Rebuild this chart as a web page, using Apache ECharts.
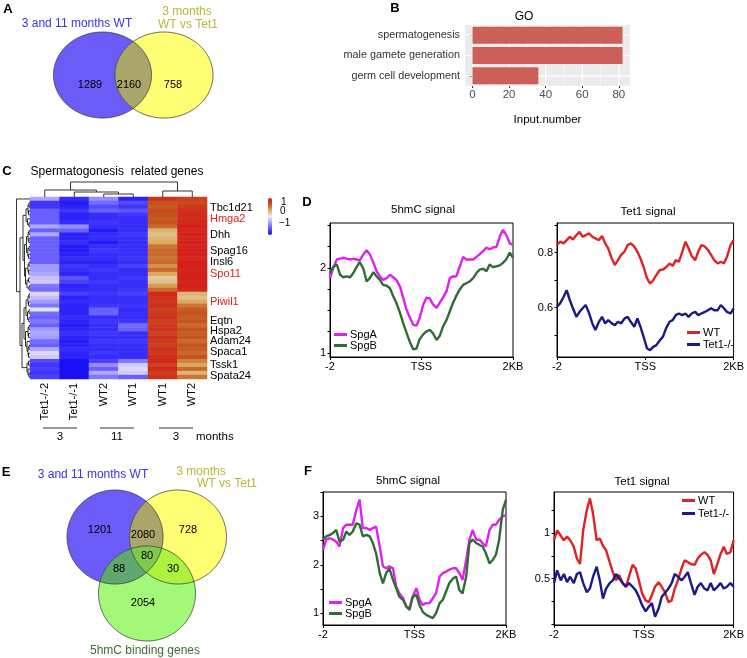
<!DOCTYPE html>
<html><head><meta charset="utf-8">
<script src="https://cdn.jsdelivr.net/npm/echarts@6/dist/echarts.min.js"></script>
<style>html,body{margin:0;padding:0;background:#fff}#c{width:747px;height:658px}</style>
</head><body><div id="c"></div>
<script>
// ================= DATA =================
const vennALabels = ['3 and 11 months WT', '3 months', 'WT vs Tet1'];
const vennACounts = [1289, 2160, 758];           // blue only, both, yellow only
const vennELabels = ['3 and 11 months WT', '3 months', 'WT vs Tet1', '5hmC binding genes'];
const vennECounts = [1201, 2080, 728, 88, 80, 30, 2054]; // B, BY, Y, BG, BYG, YG, G

const goTerms = ['spermatogenesis', 'male gamete generation', 'germ cell development'];
const goCounts = [82, 82, 36];
const goTicks = [0, 20, 40, 60, 80];
const goMinorTicks = [10, 30, 50, 70];

const hmCols = ['Tet1-/-2', 'Tet1-/-1', 'WT2', 'WT1', 'WT1', 'WT2'];
const hmTet1KO2 = [-0.3,-0.8,-0.8,-0.6,-0.6,-0.6,-0.6,-0.3,-0.6,-0.3,-0.6,-0.6,-0.6,-0.6,-0.6,-0.6,-0.6,-0.35,-0.35,-0.3,-0.2,-0.15,-0.5,-0.55,-0.1,-0.2,-0.35,-0.5,-0.05,-0.55,-0.6,-0.5,-0.6,-0.35,-0.3,-0.35,-0.55,-0.6,-0.3,-0.1,-0.15,-0.7,-0.8,-0.75,-0.8,-0.75];
const hmTet1KO1 = [-0.85,-0.95,-0.9,-0.8,-0.9,-0.9,-0.85,-0.4,-0.6,-0.9,-0.9,-0.85,-0.95,-0.95,-0.9,-0.85,-0.9,-0.8,-0.85,-0.9,-0.65,-0.75,-0.9,-0.85,-0.75,-0.9,-0.85,-0.9,-0.9,-0.9,-0.85,-0.9,-0.95,-0.9,-0.85,-0.9,-0.95,-0.9,-0.85,-0.9,-0.9,-1,-1,-1,-1,-1];
const hmWT2m11 = [-0.4,-0.55,-0.7,-0.6,-0.85,-0.85,-0.8,-0.85,-0.95,-0.85,-0.85,-0.95,-0.85,-0.8,-0.85,-0.85,-0.9,-0.85,-0.8,-0.85,-0.85,-0.8,-0.85,-0.85,-0.8,-0.85,-0.85,-0.8,-0.6,-0.6,-0.85,-0.8,-0.85,-0.85,-0.8,-0.85,-0.8,-0.85,-0.85,-0.8,-0.85,-0.75,-0.4,-0.6,-0.3,-0.5];
const hmWT1m11 = [-0.9,-0.7,-0.8,-0.65,-0.8,-0.85,-0.85,-0.85,-0.85,-0.8,-0.85,-0.85,-0.85,-0.85,-0.85,-0.8,-0.85,-0.75,-0.85,-0.85,-0.8,-0.85,-0.85,-0.8,-0.75,-0.85,-0.85,-0.8,-0.85,-0.85,-0.85,-0.8,-0.55,-0.6,-0.85,-0.85,-0.8,-0.85,-0.85,-0.85,-0.85,-0.5,-0.15,-0.1,-0.15,-0.6];
const hmWT1m3 = [0.9,0.7,0.65,0.75,0.7,0.65,0.7,0.6,0.3,0.25,0.3,0.35,0.55,0.6,0.6,0.55,0.6,0.45,0.6,0.35,0.2,0.25,0.4,0.6,0.95,0.9,0.85,0.9,0.8,0.85,0.9,0.8,0.85,0.9,0.8,0.9,0.85,0.8,0.9,0.85,0.9,0.95,0.8,0.95,0.8,0.9];
const hmWT2m3 = [0.8,0.75,0.85,0.9,0.95,0.9,0.95,1,0.95,1,0.95,1,0.95,1,1,0.95,1,1,0.95,1,1,0.95,1,0.95,0.3,0.25,0.35,0.55,0.65,0.7,0.65,0.7,0.6,0.7,0.65,0.7,0.6,0.7,0.65,0.6,0.7,0.5,0.35,0.6,0.3,0.55];
const hmGeneNames = ['Tbc1d21','Hmga2','Dhh','Spag16','Insl6','Spo11','Piwil1','Eqtn','Hspa2','Adam24','Spaca1','Tssk1','Spata24'];
const hmGeneRows = [2.36, 5.14, 9.10, 13.07, 15.85, 18.96, 25.96, 30.76, 33.29, 35.82, 38.60, 41.96, 44.66];
const hmRedGenes = ['Hmga2', 'Spo11', 'Piwil1'];
const hmScaleLabels = ['1', '0', '\u22121'];
const monthGroups = ['3', '11', '3'];
// dendrograms: [height, left, right], leaves = row / column index
const colTree = [15, [7, 0, [5, 1, [3, 2, 3]]], [6, 4, 5]];
const rowTree = [13.5, 0,
  [10,
    [7, [4, [2, [1, 1, 2], [1.5, 3, 4]], [2.5, 5, [1, 6, 7]]],
        [5.5, [3.5, [2, [1, 8, 9], [1.2, 10, 11]], [2.2, [1, 12, 13], [1.5, 14, 15]]],
              [4.5, [2, [1, 16, 17], [1.4, 18, 19]], [3, [1.5, 20, 21], [1, 22, 23]]]]],
    [8,
      [6, [4, [2, [1, 24, 25], [1.5, 26, 27]], [2.5, [1, 28, 29], [1.2, 30, 31]]],
          [4.5, [2, [1, 32, 33], [1.5, 34, 35]], [3, 36, [2, [1, 37, 38], [1.5, 39, 40]]]]],
      [3, [1.5, 41, 42], [2, 43, [1, 44, 45]]]]]];

// profile positions (kb relative to TSS)
const pos = [-2.00,-1.93,-1.85,-1.78,-1.71,-1.64,-1.56,-1.49,-1.42,-1.35,-1.27,-1.20,-1.13,-1.05,-0.98,-0.91,-0.84,-0.76,-0.69,-0.62,-0.55,-0.47,-0.40,-0.33,-0.25,-0.18,-0.11,-0.04,0.04,0.11,0.18,0.25,0.33,0.40,0.47,0.55,0.62,0.69,0.76,0.84,0.91,0.98,1.05,1.13,1.20,1.27,1.35,1.42,1.49,1.56,1.64,1.71,1.78,1.85,1.93,2.00];
const xTickVals = [-2, 0, 2];
const xTickNames = ['-2', 'TSS', '2KB'];

const d5hmcSpgA = [1.88,2.00,2.10,2.11,2.12,2.11,2.10,2.11,2.10,2.09,2.16,2.21,2.16,2.06,1.96,1.90,1.86,1.88,1.92,1.89,1.86,1.78,1.65,1.51,1.41,1.33,1.32,1.41,1.57,1.65,1.64,1.57,1.53,1.59,1.65,1.73,1.88,1.90,1.90,2.02,2.13,2.10,2.10,2.10,2.13,2.16,2.20,2.24,2.22,2.24,2.25,2.37,2.45,2.39,2.29,2.27];
const d5hmcSpgB = [1.94,2.01,2.04,1.92,1.89,1.90,1.89,1.94,2.01,2.07,1.99,1.84,1.88,1.95,1.90,1.86,1.80,1.79,1.76,1.67,1.59,1.47,1.35,1.24,1.12,1.04,1.05,1.16,1.22,1.25,1.27,1.23,1.15,1.20,1.31,1.39,1.49,1.59,1.67,1.75,1.80,1.82,1.84,1.88,1.94,1.98,1.99,1.96,2.04,2.01,2.02,2.03,2.06,2.10,2.18,2.12];
const dTet1WT = [0.828,0.84,0.834,0.846,0.858,0.848,0.864,0.876,0.858,0.864,0.87,0.858,0.852,0.846,0.861,0.834,0.816,0.779,0.755,0.773,0.792,0.804,0.828,0.834,0.822,0.804,0.779,0.749,0.707,0.688,0.70,0.719,0.737,0.739,0.747,0.761,0.752,0.773,0.767,0.804,0.84,0.816,0.788,0.773,0.804,0.828,0.822,0.81,0.792,0.773,0.761,0.767,0.761,0.785,0.828,0.846];
const dTet1KO = [0.604,0.616,0.64,0.664,0.628,0.598,0.567,0.585,0.598,0.61,0.579,0.543,0.519,0.549,0.567,0.543,0.555,0.543,0.537,0.549,0.543,0.561,0.567,0.549,0.531,0.561,0.531,0.495,0.452,0.446,0.458,0.464,0.482,0.495,0.525,0.549,0.555,0.573,0.579,0.573,0.579,0.567,0.579,0.585,0.573,0.579,0.585,0.591,0.598,0.591,0.591,0.61,0.598,0.585,0.579,0.598];
const f5hmcSpgA = [2.31,2.52,2.55,2.52,2.48,2.38,2.76,2.83,2.83,2.83,3.14,3.35,2.76,2.76,2.72,2.76,2.79,2.38,1.97,1.93,1.97,1.93,1.55,1.41,1.31,1.14,1.10,1.34,1.52,1.28,1.17,1.21,1.21,1.31,1.41,1.76,1.83,1.86,1.90,1.93,1.93,1.83,1.69,2.10,2.52,2.72,2.52,2.52,2.45,2.38,2.72,2.83,2.83,2.93,3.00,3.03];
const f5hmcSpgB = [2.52,2.59,2.62,2.66,2.72,2.48,2.52,2.69,2.62,2.69,2.86,2.83,2.59,2.62,2.59,2.45,2.24,1.83,1.62,1.83,1.93,1.69,1.52,1.34,1.28,1.14,1.07,1.34,1.38,1.17,1.03,0.97,0.93,0.90,1.00,1.21,1.28,1.45,1.62,1.72,1.76,1.48,1.41,1.76,2.45,2.52,2.45,2.41,2.38,2.24,2.03,2.10,2.21,2.52,3.14,3.34];
const fTet1WT = [0.92,1.03,0.97,0.92,0.96,0.92,0.85,0.72,0.66,1.03,1.25,1.38,1.21,0.92,0.94,0.86,0.81,0.68,0.57,0.48,0.54,0.45,0.41,0.52,0.65,0.61,0.48,0.34,0.26,0.24,0.32,0.41,0.46,0.41,0.35,0.24,0.26,0.39,0.48,0.61,0.70,0.68,0.66,0.65,0.72,0.76,0.79,0.76,0.70,0.55,0.66,0.77,0.85,0.77,0.79,0.92];
const fTet1KO = [0.45,0.59,0.48,0.55,0.46,0.52,0.45,0.55,0.57,0.45,0.35,0.39,0.52,0.63,0.48,0.28,0.39,0.45,0.48,0.55,0.50,0.45,0.41,0.45,0.41,0.37,0.30,0.21,0.14,0.19,0.23,0.08,0.17,0.30,0.34,0.39,0.45,0.55,0.52,0.48,0.52,0.57,0.45,0.32,0.41,0.45,0.39,0.37,0.45,0.37,0.41,0.45,0.39,0.41,0.45,0.41];

const dLeftYTicks = [1, 1.25, 1.5, 1.75, 2, 2.25, 2.5], dLeftYLabels = [1, 2];
const dRightYTicks = [0.5, 0.6, 0.7, 0.8, 0.9], dRightYLabels = [0.6, 0.8];
const fLeftYTicks = [1, 1.5, 2, 2.5, 3, 3.5], fLeftYLabels = [1, 2, 3];
const fRightYTicks = [0, 0.25, 0.5, 0.75, 1, 1.25], fRightYLabels = [0.5, 1];

// ================= STYLE =================
const FONT = '"Liberation Sans", Arial, sans-serif';
const C_SPGA = '#e020ee', C_SPGB = '#336b38', C_WT = '#dd2424', C_KO = '#1b1a86';
const hmColors = ['#1a10f5', '#5a50ff', '#a5a0ff', '#f2eef5', '#dcae64', '#c4581e', '#d41f1c'];

// ================= HELPERS =================
function ellPts(e, n) { const p = []; for (let i = 0; i < n; i++) { const t = 2 * Math.PI * i / n; p.push([e.cx + e.rx * Math.cos(t), e.cy + e.ry * Math.sin(t)]); } return p; }
function inside(p, e) { const dx = (p[0] - e.cx) / e.rx, dy = (p[1] - e.cy) / e.ry; return dx * dx + dy * dy <= 1.0001; }
function interPoly(list) {
  let pts = [];
  list.forEach(e => ellPts(e, 720).forEach(p => { if (list.every(o => o === e || inside(p, o))) pts.push(p); }));
  const cx = pts.reduce((s, p) => s + p[0], 0) / pts.length, cy = pts.reduce((s, p) => s + p[1], 0) / pts.length;
  pts.sort((a, b) => Math.atan2(a[1] - cy, a[0] - cx) - Math.atan2(b[1] - cy, b[0] - cx));
  return pts;
}
const graphics = [];
let gz = 10;
function poly(points, fill, stroke) { graphics.push({ type: 'polygon', silent: true, z: gz++, shape: { points }, style: { fill: fill || 'none', stroke: stroke || null, lineWidth: 0.8 } }); }
function txt(t, x, y, font, color, align) { graphics.push({ type: 'text', silent: true, z: 200, style: { text: t, x, y, font: font, fill: color || '#000', textAlign: align || 'center', textVerticalAlign: 'middle' } }); }
function seg(x1, y1, x2, y2, w) { graphics.push({ type: 'line', silent: true, z: 200, shape: { x1, y1, x2, y2 }, style: { stroke: '#000', lineWidth: w || 0.8 } }); }

function dendro(node, orient, segs) {
  if (typeof node === 'number') return { p: node, h: 0 };
  const a = dendro(node[1], orient, segs), b = dendro(node[2], orient, segs), H = node[0];
  if (orient === 'row') segs.push([[a.h, a.p], [H, a.p], [H, b.p], [b.h, b.p]]);
  else segs.push([[a.p, a.h], [a.p, H], [b.p, H], [b.p, b.h]]);
  return { p: (a.p + b.p) / 2, h: H };
}

// ================= VENN A =================
const aB = { cx: 102.5, cy: 75, rx: 49, ry: 43 }, aY = { cx: 164, cy: 75, rx: 49, ry: 43 };
poly(ellPts(aB, 360), '#6b5cf7');
poly(ellPts(aY, 360), '#ffff73');
poly(interPoly([aB, aY]), '#aaa66b');
poly(ellPts(aB, 360), null, '#3a3a3a');
poly(ellPts(aY, 360), null, '#3a3a3a');
txt(vennALabels[0], 77, 24, '12px ' + FONT, '#3c30e8');
txt(vennALabels[1], 187, 12, '12px ' + FONT, '#b9b838');
txt(vennALabels[2], 188, 25, '12px ' + FONT, '#b9b838');
txt(String(vennACounts[0]), 90, 85, '11px ' + FONT);
txt(String(vennACounts[1]), 129, 85, '11px ' + FONT);
txt(String(vennACounts[2]), 173, 85, '11px ' + FONT);

// ================= VENN E =================
const eB = { cx: 115, cy: 537, rx: 48, ry: 47 }, eY = { cx: 178, cy: 537, rx: 48.5, ry: 47 }, eG = { cx: 147, cy: 593.5, rx: 48.5, ry: 47.5 };
poly(ellPts(eB, 360), '#6b5cf7');
poly(ellPts(eY, 360), '#ffff73');
poly(ellPts(eG, 360), '#a4f878');
poly(interPoly([eB, eY]), '#aaa66b');
poly(interPoly([eB, eG]), '#60a870');
poly(interPoly([eY, eG]), '#acf23e');
poly(interPoly([eB, eY, eG]), '#7ecb4c');
[eB, eY, eG].forEach(e => poly(ellPts(e, 360), null, '#3a3a3a'));
txt(vennELabels[0], 93, 475, '12px ' + FONT, '#3c30e8');
txt(vennELabels[1], 201, 472, '12px ' + FONT, '#b9b838');
txt(vennELabels[2], 227, 484, '12px ' + FONT, '#b9b838');
txt(vennELabels[3], 145, 651, '12px ' + FONT, '#3e6e33');
const eNumPos = [[100, 530], [143, 535], [188, 530], [119, 569], [147, 556], [173, 569], [143, 603]];
vennECounts.forEach((v, i) => txt(String(v), eNumPos[i][0], eNumPos[i][1], '11px ' + FONT));

// ================= letters & titles =================
const LB = 'bold 13px ' + FONT;
txt('A', 8, 9, LB); txt('B', 395, 8, LB); txt('C', 7, 171, LB); txt('D', 307, 202, LB); txt('E', 6, 472, LB); txt('F', 308, 471, LB);
txt('GO', 524, 17, '12px ' + FONT);
txt('Spermatogonesis  related genes', 117, 172, '12px ' + FONT);
txt('5hmC signal', 423, 210, '11.5px ' + FONT);
txt('Tet1 signal', 648, 212, '11.5px ' + FONT);
txt('5hmC signal', 408, 481, '11.5px ' + FONT);
txt('Tet1 signal', 642, 482, '11.5px ' + FONT);

// heatmap scale labels and month groups
txt(hmScaleLabels[0], 281, 202, '10px ' + FONT, '#000', 'left');
txt(hmScaleLabels[1], 280, 211, '10px ' + FONT, '#000', 'left');
txt(hmScaleLabels[2], 279, 223, '10px ' + FONT, '#000', 'left');
const mgX = [[43, 77], [100, 134], [159, 193]];
monthGroups.forEach((m, i) => { seg(mgX[i][0], 428, mgX[i][1], 428, 0.8); txt(m, (mgX[i][0] + mgX[i][1]) / 2, 437, '11.5px ' + FONT); });
txt('months', 196, 437, '11.5px ' + FONT, '#000', 'left');

// ================= AXES / SERIES =================
const grids = [], xAxes = [], yAxes = [], series = [];

// 0: GO bar chart
grids.push({ left: 465, top: 25, width: 165, height: 61, show: true, backgroundColor: '#ebebeb', borderWidth: 0 });
xAxes.push({ type: 'value', gridIndex: 0, min: -4.1, max: 86.1, axisLine: { show: false },
  axisTick: { show: true, length: 2, lineStyle: { color: '#333' }, customValues: goTicks },
  axisLabel: { customValues: goTicks, color: '#4d4d4d', fontSize: 11.5, margin: 3 },
  splitLine: { show: false }, name: 'Input.number', nameLocation: 'middle', nameGap: 28, nameTextStyle: { fontSize: 11.5, color: '#000' } });
yAxes.push({ type: 'category', gridIndex: 0, data: goTerms, inverse: true, axisLine: { show: false },
  axisTick: { show: true, length: 3, alignWithLabel: true, lineStyle: { color: '#333' } },
  axisLabel: { color: '#333', fontSize: 10.8, margin: 5 }, splitLine: { show: false } });
series.push({ type: 'custom', xAxisIndex: 0, yAxisIndex: 0, z: 1, silent: true,
  data: goTicks.map(v => [v, 0, 1.1]).concat(goMinorTicks.map(v => [v, 0, 0.55])),
  renderItem: (params, api) => { const cs = params.coordSys; const x = api.coord([api.value(0), 0])[0];
    return { type: 'line', shape: { x1: x, y1: cs.y, x2: x, y2: cs.y + cs.height }, style: { stroke: '#fff', lineWidth: api.value(2) } }; } });
series.push({ type: 'custom', xAxisIndex: 0, yAxisIndex: 0, z: 1, silent: true,
  data: goTerms.map((t, i) => [0, i]),
  renderItem: (params, api) => { const cs = params.coordSys; const y = api.coord([0, api.value(1)])[1];
    return { type: 'line', shape: { x1: cs.x, y1: y, x2: cs.x + cs.width, y2: y }, style: { stroke: '#fff', lineWidth: 1.1 } }; } });
series.push({ type: 'bar', xAxisIndex: 0, yAxisIndex: 0, z: 3, data: goCounts, barCategoryGap: '16%',
  itemStyle: { color: '#cd5f59' }, silent: true });

// 1: heatmap
grids.push({ left: 30, top: 197, width: 177, height: 182 });
const hmAll = [hmTet1KO2, hmTet1KO1, hmWT2m11, hmWT1m11, hmWT1m3, hmWT2m3];
const nRows = hmTet1KO2.length;
const rowIds = []; for (let r = 0; r < nRows; r++) rowIds.push('r' + r);
xAxes.push({ type: 'category', gridIndex: 1, data: hmCols, axisLine: { show: false }, axisTick: { show: false },
  axisLabel: { interval: 0, rotate: 90, fontSize: 11, color: '#000', margin: 4 } });
yAxes.push({ type: 'category', gridIndex: 1, data: rowIds, inverse: true, show: false });
// gene labels axis (row-index scale of the same grid); a trailing hidden slot at the axis end
yAxes.push({ type: 'value', gridIndex: 1, min: -0.5, max: nRows - 0.5, inverse: true, position: 'right',
  axisLine: { show: false }, axisTick: { show: false }, splitLine: { show: false },
  axisLabel: { customValues: hmGeneRows.concat([nRows - 0.5]), fontSize: 11, color: '#000', margin: 3,
    showMinLabel: true, showMaxLabel: false, hideOverlap: false,
    formatter: v => { if (v > nRows - 0.6) return ' ';
      let k = 0; hmGeneRows.forEach((r, i) => { if (Math.abs(r - v) < Math.abs(hmGeneRows[k] - v)) k = i; });
      const n = hmGeneNames[k]; return hmRedGenes.indexOf(n) >= 0 ? '{r|' + n + '}' : n; },
    rich: { r: { color: '#e3201c', fontSize: 11 } } } });
const HM_Y = 1;
const hmData = [];
hmAll.forEach((col, c) => col.forEach((v, r) => hmData.push([c, r, v])));
const hmSeriesIndex = series.length;
series.push({ type: 'heatmap', xAxisIndex: 1, yAxisIndex: HM_Y, data: hmData, silent: true, itemStyle: { borderWidth: 0 } });

// 2: column dendrogram
grids.push({ left: 30, top: 181, width: 177, height: 16 });
xAxes.push({ type: 'value', gridIndex: 2, min: -0.5, max: 5.5, show: false });
yAxes.push({ type: 'value', gridIndex: 2, min: 0, max: 16, show: false });
const colSegs = []; dendro(colTree, 'col', colSegs);
series.push({ type: 'lines', coordinateSystem: 'cartesian2d', xAxisIndex: 2, yAxisIndex: 3, polyline: true, silent: true,
  data: colSegs.map(c => ({ coords: c })), lineStyle: { color: '#000', width: 0.8, opacity: 1 } });

// 3: row dendrogram
grids.push({ left: 15, top: 197, width: 15, height: 182 });
xAxes.push({ type: 'value', gridIndex: 3, min: 0, max: 15, inverse: true, show: false });
yAxes.push({ type: 'value', gridIndex: 3, min: -0.5, max: nRows - 0.5, inverse: true, show: false });
const rowSegs = []; dendro(rowTree, 'row', rowSegs);
series.push({ type: 'lines', coordinateSystem: 'cartesian2d', xAxisIndex: 3, yAxisIndex: 4, polyline: true, silent: true,
  data: rowSegs.map(c => ({ coords: c })), lineStyle: { color: '#000', width: 0.8, opacity: 1 } });

// profile panels
function profile(box, ymin, ymax, yticks, ylabels, lines) {
  const gi = grids.length, xi = xAxes.length, yi = yAxes.length;
  grids.push({ left: box[0], top: box[1], width: box[2], height: box[3], show: true, borderColor: '#000', borderWidth: 1, backgroundColor: 'transparent' });
  xAxes.push({ type: 'value', gridIndex: gi, min: -2, max: 2,
    axisLine: { show: true, onZero: false, lineStyle: { color: '#000', width: 1 } },
    axisTick: { show: true, length: 3, lineStyle: { color: '#000' }, customValues: xTickVals },
    axisLabel: { customValues: xTickVals, color: '#000', fontSize: 11, margin: 4,
      formatter: v => { for (let i = 0; i < xTickVals.length; i++) if (Math.abs(v - xTickVals[i]) < 1e-6) return xTickNames[i]; return ''; } },
    splitLine: { show: false } });
  yAxes.push({ type: 'value', gridIndex: gi, min: ymin, max: ymax,
    axisLine: { show: true, onZero: false, lineStyle: { color: '#000', width: 1 } },
    axisTick: { show: true, length: 2.5, lineStyle: { color: '#000' }, customValues: yticks },
    axisLabel: { customValues: ylabels, color: '#000', fontSize: 11, margin: 4 },
    splitLine: { show: false } });
  lines.forEach(l => series.push({ type: 'line', name: l[0], xAxisIndex: xi, yAxisIndex: yi, data: pos.map((p, i) => [p, l[1][i]]),
    showSymbol: false, symbol: 'none', silent: true, lineStyle: { width: 2.4, color: l[2] }, itemStyle: { color: l[2] } }));
}
profile([330, 223, 183, 134], 0.95, 2.53, dLeftYTicks, dLeftYLabels, [['SpgA', d5hmcSpgA, C_SPGA], ['SpgB', d5hmcSpgB, C_SPGB]]);
profile([557, 223, 183, 134], 0.421, 0.908, dRightYTicks, dRightYLabels, [['WT', dTet1WT, C_WT], ['Tet1-/-', dTet1KO, C_KO]]);
profile([323, 492, 183, 133], 0.758, 3.505, fLeftYTicks, fLeftYLabels, [['SpgA', f5hmcSpgA, C_SPGA], ['SpgB', f5hmcSpgB, C_SPGB]]);
profile([554, 492, 183, 133], -0.01, 1.45, fRightYTicks, fRightYLabels, [['WT', fTet1WT, C_WT], ['Tet1-/-', fTet1KO, C_KO]]);

function leg(names, left, top, gap) {
  return { data: names, left, top, orient: 'vertical', icon: 'rect', itemWidth: 13, itemHeight: 3, itemGap: gap, padding: 0,
    selectedMode: false, textStyle: { fontSize: 11, color: '#000', padding: [0, 0, 0, -2], lineHeight: 11 } };
}

const option = {
  animation: false,
  textStyle: { fontFamily: FONT },
  grid: grids, xAxis: xAxes, yAxis: yAxes, series,
  legend: [leg(['SpgA', 'SpgB'], 334, 329, 0), leg(['WT', 'Tet1-/-'], 687, 327, 1), leg(['SpgA', 'SpgB'], 329, 597, 0), leg(['WT', 'Tet1-/-'], 682, 495, 2)],
  visualMap: { type: 'continuous', seriesIndex: hmSeriesIndex, min: -1, max: 1, show: true, calculable: false,
    left: 268, top: 198, itemWidth: 4, itemHeight: 37, padding: 0, inRange: { color: hmColors } },
  graphic: graphics
};
const chart = echarts.init(document.getElementById('c'));
chart.setOption(option);
</script></body></html>
